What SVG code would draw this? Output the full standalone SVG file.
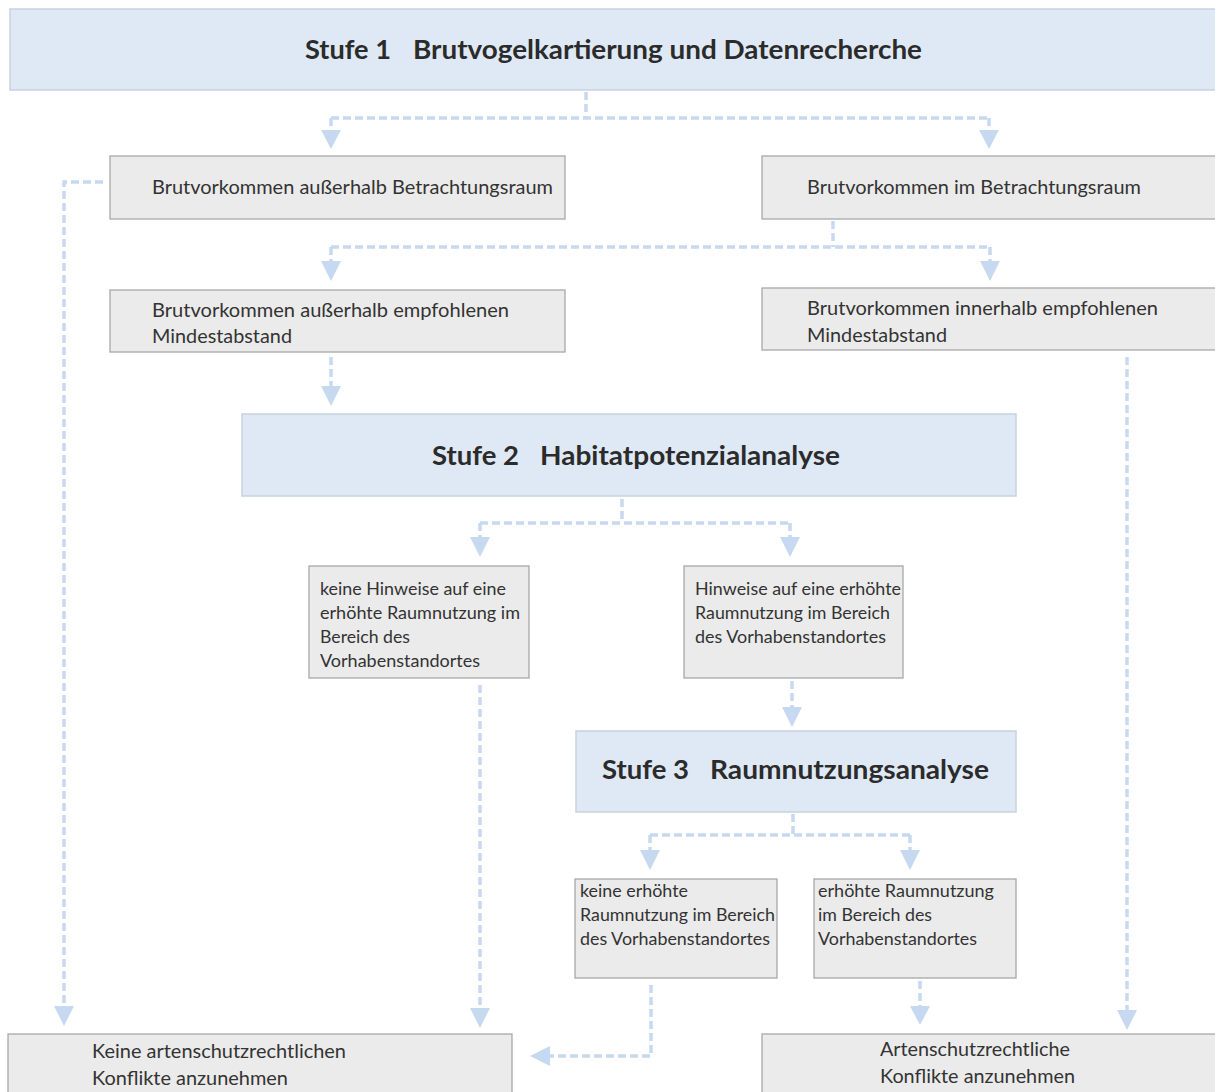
<svg xmlns="http://www.w3.org/2000/svg" width="1215" height="1092" viewBox="0 0 1215 1092">
<defs>
<style>
.stage{fill:#dfe9f5;stroke:#c8d2de;stroke-width:1.5}
.box{fill:#ebebeb;stroke:#a8a8a8;stroke-width:1.3}
.t{font-family:Lato,"Liberation Sans",sans-serif;font-size:19px;fill:#333}
.ts{font-family:Lato,"Liberation Sans",sans-serif;font-size:17.5px;fill:#333}
.h{font-family:Lato,"Liberation Sans",sans-serif;font-size:26px;font-weight:bold;fill:#2b2b2b}
.c{fill:none;stroke:#c6d9f0;stroke-width:3.5;stroke-dasharray:8 4}
.ah{fill:#c6d9f0}
</style>
</defs>
<rect width="1215" height="1092" fill="#ffffff"/>
<g id="connectors">
<path class="c" d="M586 92 V118 M331 118 H989 M331 118 V132 M989 118 V132"/>
<polygon class="ah" points="321,130 341,130 331,149"/>
<polygon class="ah" points="979,130 999,130 989,149"/>
<path class="c" d="M833 221 V247 M331 247 H990 M331 247 V262 M990 247 V262"/>
<polygon class="ah" points="321,261 341,261 331,281"/>
<polygon class="ah" points="980,261 1000,261 990,281"/>
<path class="c" d="M331 357 V388"/>
<polygon class="ah" points="321,386 341,386 331,406"/>
<path class="c" d="M622 499 V523 M480 523 H790 M480 523 V538 M790 523 V538"/>
<polygon class="ah" points="470,537 490,537 480,557"/>
<polygon class="ah" points="780,537 800,537 790,557"/>
<path class="c" d="M792 681 V708"/>
<polygon class="ah" points="782,707 802,707 792,727"/>
<path class="c" d="M793 814 V835 M650 835 H910 M650 835 V851 M910 835 V851"/>
<polygon class="ah" points="640,850 660,850 650,870"/>
<polygon class="ah" points="900,850 920,850 910,870"/>
<path class="c" d="M103 182 H64 V1008"/>
<polygon class="ah" points="54,1006 74,1006 64,1026"/>
<path class="c" d="M480 685 V1010"/>
<polygon class="ah" points="470,1008 490,1008 480,1028"/>
<path class="c" d="M1127 357 V1012"/>
<polygon class="ah" points="1117,1010 1137,1010 1127,1030"/>
<path class="c" d="M651 985 V1056 H548"/>
<polygon class="ah" points="550,1046 550,1066 530,1056"/>
<path class="c" d="M920 981 V1007"/>
<polygon class="ah" points="910,1006 930,1006 920,1025"/>
</g>
<g id="stufe1">
<rect class="stage" x="10" y="9" width="1212" height="81"/>
<text class="h" x="305" y="59" textLength="86" lengthAdjust="spacingAndGlyphs">Stufe 1</text>
<text class="h" x="413" y="59" textLength="509" lengthAdjust="spacingAndGlyphs">Brutvogelkartierung und Datenrecherche</text>
</g>
<g id="aussen">
<rect class="box" x="110" y="156" width="455" height="63"/>
<text class="t" x="152" y="194" textLength="401" lengthAdjust="spacingAndGlyphs">Brutvorkommen außerhalb Betrachtungsraum</text>
</g>
<g id="im">
<rect class="box" x="762" y="156" width="460" height="63"/>
<text class="t" x="807" y="194" textLength="334" lengthAdjust="spacingAndGlyphs">Brutvorkommen im Betrachtungsraum</text>
</g>
<g id="ausserhalbMindest">
<rect class="box" x="110" y="290" width="455" height="62"/>
<text class="t" x="152" y="317" textLength="357" lengthAdjust="spacingAndGlyphs">Brutvorkommen außerhalb empfohlenen</text>
<text class="t" x="152" y="343" textLength="140" lengthAdjust="spacingAndGlyphs">Mindestabstand</text>
</g>
<g id="innerhalbMindest">
<rect class="box" x="762" y="288" width="460" height="62"/>
<text class="t" x="807" y="315" textLength="351" lengthAdjust="spacingAndGlyphs">Brutvorkommen innerhalb empfohlenen</text>
<text class="t" x="807" y="342" textLength="140" lengthAdjust="spacingAndGlyphs">Mindestabstand</text>
</g>
<g id="stufe2">
<rect class="stage" x="242" y="414" width="774" height="82"/>
<text class="h" x="432" y="465" textLength="87" lengthAdjust="spacingAndGlyphs">Stufe 2</text>
<text class="h" x="540" y="465" textLength="300" lengthAdjust="spacingAndGlyphs">Habitatpotenzialanalyse</text>
</g>
<g id="keineHinweise">
<rect class="box" x="309" y="566" width="220" height="112"/>
<text class="ts" x="320" y="595" textLength="186" lengthAdjust="spacingAndGlyphs">keine Hinweise auf eine</text>
<text class="ts" x="320" y="619" textLength="200" lengthAdjust="spacingAndGlyphs">erhöhte Raumnutzung im</text>
<text class="ts" x="320" y="643" textLength="90" lengthAdjust="spacingAndGlyphs">Bereich des</text>
<text class="ts" x="320" y="667" textLength="160" lengthAdjust="spacingAndGlyphs">Vorhabenstandortes</text>
</g>
<g id="hinweise">
<rect class="box" x="684" y="566" width="219" height="112"/>
<text class="ts" x="695" y="595" textLength="206" lengthAdjust="spacingAndGlyphs">Hinweise auf eine erhöhte</text>
<text class="ts" x="695" y="619" textLength="195" lengthAdjust="spacingAndGlyphs">Raumnutzung im Bereich</text>
<text class="ts" x="695" y="643" textLength="191" lengthAdjust="spacingAndGlyphs">des Vorhabenstandortes</text>
</g>
<g id="stufe3">
<rect class="stage" x="576" y="731" width="440" height="81"/>
<text class="h" x="602" y="779" textLength="87" lengthAdjust="spacingAndGlyphs">Stufe 3</text>
<text class="h" x="710" y="779" textLength="279" lengthAdjust="spacingAndGlyphs">Raumnutzungsanalyse</text>
</g>
<g id="keineErhoehte">
<rect class="box" x="575" y="879" width="202" height="99"/>
<text class="ts" x="580" y="897" textLength="108" lengthAdjust="spacingAndGlyphs">keine erhöhte</text>
<text class="ts" x="580" y="921" textLength="195" lengthAdjust="spacingAndGlyphs">Raumnutzung im Bereich</text>
<text class="ts" x="580" y="945" textLength="190" lengthAdjust="spacingAndGlyphs">des Vorhabenstandortes</text>
</g>
<g id="erhoehte">
<rect class="box" x="814" y="879" width="202" height="99"/>
<text class="ts" x="818" y="897" textLength="176" lengthAdjust="spacingAndGlyphs">erhöhte Raumnutzung</text>
<text class="ts" x="818" y="921" textLength="114" lengthAdjust="spacingAndGlyphs">im Bereich des</text>
<text class="ts" x="818" y="945" textLength="159" lengthAdjust="spacingAndGlyphs">Vorhabenstandortes</text>
</g>
<g id="keineKonflikte">
<rect class="box" x="8" y="1034" width="504" height="70"/>
<text class="t" x="92" y="1058" textLength="254" lengthAdjust="spacingAndGlyphs">Keine artenschutzrechtlichen</text>
<text class="t" x="92" y="1085" textLength="196" lengthAdjust="spacingAndGlyphs">Konflikte anzunehmen</text>
</g>
<g id="konflikte">
<rect class="box" x="762" y="1034" width="460" height="70"/>
<text class="t" x="880" y="1056" textLength="190" lengthAdjust="spacingAndGlyphs">Artenschutzrechtliche</text>
<text class="t" x="880" y="1083" textLength="195" lengthAdjust="spacingAndGlyphs">Konflikte anzunehmen</text>
</g>
</svg>
